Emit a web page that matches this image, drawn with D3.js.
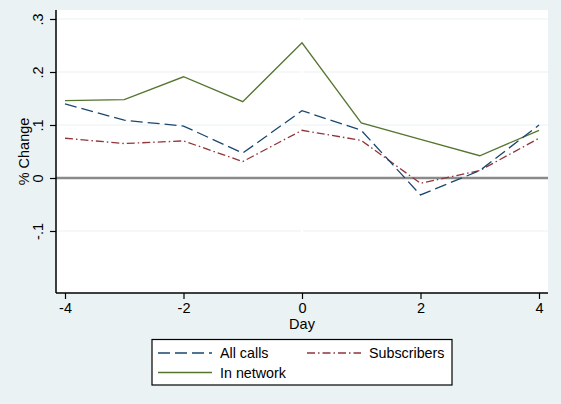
<!DOCTYPE html>
<html>
<head>
<meta charset="utf-8">
<script src="https://cdn.jsdelivr.net/npm/d3@7/dist/d3.min.js"></script>
<style>
  html, body { margin: 0; padding: 0; background: #eaf2f3; }
  svg { display: block; font-family: "Liberation Sans", Arial, sans-serif; }
</style>
</head>
<body>
<svg id="chart" width="561" height="404"></svg>
<script>
// Event-study series: percent change by day relative to event
const days = [-4, -3, -2, -1, 0, 1, 2, 3, 4];
const allCalls    = [0.140, 0.109, 0.098, 0.047, 0.127, 0.090, -0.032, 0.014, 0.100];
const subscribers = [0.075, 0.065, 0.070, 0.031, 0.090, 0.071, -0.010, 0.014, 0.075];
const inNetwork   = [0.146, 0.148, 0.191, 0.144, 0.255, 0.104, 0.073, 0.042, 0.090];

const xTicks = [-4, -2, 0, 2, 4];
const xTickLabels = ["-4", "-2", "0", "2", "4"];
const yTicks = [-0.1, 0, 0.1, 0.2, 0.3];
const yTickLabels = ["-.1", "0", ".1", ".2", ".3"];

const seriesNames = ["All calls", "Subscribers", "In network"];

const svg = d3.select("#chart");
const W = 561, H = 404;

const plot = { left: 56, right: 548, top: 10, bottom: 293 };

const x = d3.scaleLinear().domain([-4, 4]).range([65, 539]);
const y = d3.scaleLinear().domain([-0.1, 0.3]).range([231, 19]);

// page background
svg.append("rect").attr("width", W).attr("height", H).attr("fill", "#eaf2f3");

// plot region
svg.append("rect")
  .attr("x", plot.left).attr("y", plot.top)
  .attr("width", plot.right - plot.left).attr("height", plot.bottom - plot.top)
  .attr("fill", "#ffffff");

// horizontal gridlines
svg.append("g").selectAll("line").data(yTicks.filter(d => d !== 0)).join("line")
  .attr("x1", plot.left).attr("x2", plot.right)
  .attr("y1", d => y(d)).attr("y2", d => y(d))
  .attr("stroke", "#eaf2f3").attr("stroke-width", 1.2);

// vertical reference at day 0
svg.append("line")
  .attr("x1", x(0)).attr("x2", x(0))
  .attr("y1", plot.top).attr("y2", plot.bottom)
  .attr("stroke", "#ffffff").attr("stroke-width", 2.5);

// zero reference line
svg.append("line")
  .attr("x1", plot.left).attr("x2", plot.right)
  .attr("y1", y(0)).attr("y2", y(0))
  .attr("stroke", "#8a8a8a").attr("stroke-width", 2.6);

const styles = [
  { name: seriesNames[0], values: allCalls,    color: "#1a476f", dash: "12,5" },
  { name: seriesNames[1], values: subscribers, color: "#90353b", dash: "8,3,1.5,3" },
  { name: seriesNames[2], values: inNetwork,   color: "#55752f", dash: null }
];

const line = d3.line().x(d => x(d[0])).y(d => y(d[1]));

// draw in-network first so dashed series sit on top
[styles[2], styles[1], styles[0]].forEach(s => {
  svg.append("path")
    .datum(days.map((d, i) => [d, s.values[i]]))
    .attr("d", line)
    .attr("fill", "none")
    .attr("stroke", s.color)
    .attr("stroke-width", 1.3)
    .attr("stroke-dasharray", s.dash);
});

// x axis
const xAxis = d3.axisBottom(x).tickValues(xTicks).tickSize(6).tickPadding(4)
  .tickFormat((d, i) => xTickLabels[i]);
const gx = svg.append("g").attr("transform", `translate(0,${plot.bottom})`).call(xAxis);
gx.select(".domain").remove();
gx.append("line").attr("x1", plot.left).attr("x2", plot.right).attr("y1", 0).attr("y2", 0)
  .attr("stroke", "#000").attr("stroke-width", 1.5);
gx.selectAll(".tick line").attr("stroke", "#000").attr("stroke-width", 1.2);
gx.selectAll(".tick text").attr("fill", "#000").attr("font-size", 14.5)
  .attr("font-family", "Liberation Sans, Arial, sans-serif");

// y axis
const yAxis = d3.axisLeft(y).tickValues(yTicks).tickSize(6).tickPadding(0)
  .tickFormat((d, i) => yTickLabels[i]);
const gy = svg.append("g").attr("transform", `translate(${plot.left},0)`).call(yAxis);
gy.select(".domain").remove();
gy.append("line").attr("x1", 0).attr("x2", 0).attr("y1", plot.top).attr("y2", plot.bottom)
  .attr("stroke", "#000").attr("stroke-width", 1.5);
gy.selectAll(".tick line").attr("stroke", "#000").attr("stroke-width", 1.2);
gy.selectAll(".tick text")
  .attr("x", 0).attr("dy", null)
  .attr("transform", "translate(-13,0) rotate(-90)")
  .attr("text-anchor", "middle")
  .attr("fill", "#000").attr("font-size", 14.5)
  .attr("font-family", "Liberation Sans, Arial, sans-serif");

// axis titles
svg.append("text").attr("x", x(0)).attr("y", 329)
  .attr("text-anchor", "middle").attr("font-size", 14.5).text("Day");
svg.append("text")
  .attr("transform", `translate(29,${(plot.top + plot.bottom) / 2}) rotate(-90)`)
  .attr("text-anchor", "middle").attr("font-size", 14.5).text("% Change");

// legend
const lg = svg.append("g");
lg.append("rect").attr("x", 152).attr("y", 339.5).attr("width", 300).attr("height", 45.5)
  .attr("fill", "#ffffff").attr("stroke", "#000").attr("stroke-width", 1.2);
const slots = [
  { kx: 158, ty: 353, tx: 220 },
  { kx: 307, ty: 353, tx: 369 },
  { kx: 158, ty: 372.5, tx: 220 }
];
styles.forEach((s, i) => {
  const p = slots[i];
  lg.append("line").attr("x1", p.kx).attr("x2", p.kx + 54).attr("y1", p.ty).attr("y2", p.ty)
    .attr("stroke", s.color).attr("stroke-width", 1.3).attr("stroke-dasharray", s.dash);
  lg.append("text").attr("x", p.tx).attr("y", p.ty + 5).attr("font-size", 14.3).text(s.name);
});
</script>
</body>
</html>
